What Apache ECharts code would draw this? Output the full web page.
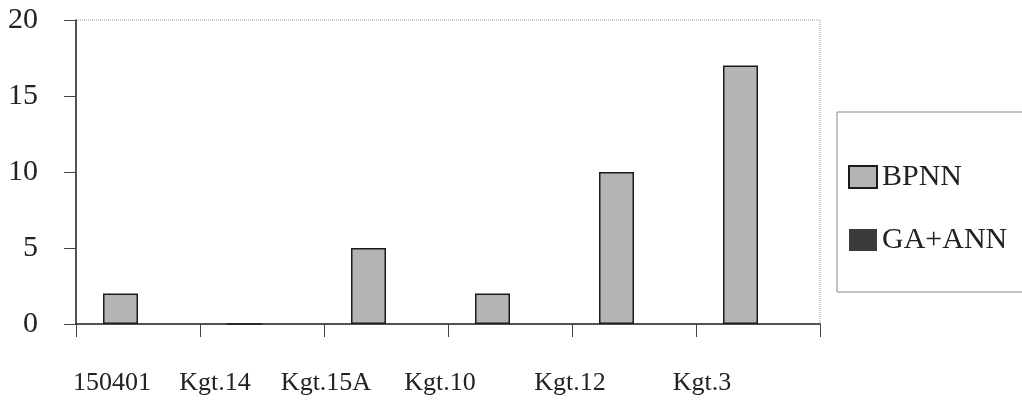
<!DOCTYPE html>
<html>
<head>
<meta charset="utf-8">
<script src="https://cdn.jsdelivr.net/npm/echarts@6/dist/echarts.min.js"></script>
<style>
  html, body { margin: 0; padding: 0; background: #fff; }
  #chart { width: 1022px; height: 410px; }
</style>
</head>
<body>
<div id="chart"></div>
<script>
// 数据
var categories = ['150401', 'Kgt.14', 'Kgt.15A', 'Kgt.10', 'Kgt.12', 'Kgt.3'];
var bpnn = [2, 0, 5, 2, 10, 17];
var gaAnn = [0, 0, 0, 0, 0, 0];
var yTicks = [0, 5, 10, 15, 20];

// x 轴标签在原图里向左偏移（像素）
var labelShift = [26, 47, 60, 70, 64, 56];

var chart = echarts.init(document.getElementById('chart'));
var font = "'Liberation Serif', 'DejaVu Serif', serif";

var rich = {};
labelShift.forEach(function (s, i) {
  rich['c' + i] = {
    fontFamily: font, fontSize: 26, color: '#222',
    padding: [0, s * 2, 0, 0]
  };
});

var option = {
  animation: false,
  backgroundColor: '#fff',
  grid: {
    left: 76, right: 202, top: 20, bottom: 86,
    show: true,
    borderColor: '#999',
    borderWidth: 1,
    borderType: 'dotted'
  },
  legend: {
    orient: 'vertical',
    left: 837,
    top: 112,
    padding: [50, 60, 37, 11],
    borderColor: '#888',
    borderWidth: 1,
    itemGap: 33,
    itemWidth: 28,
    itemHeight: 22,
    icon: 'rect',
    textStyle: { fontFamily: font, fontSize: 30, color: '#222' },
    data: ['BPNN', 'GA+ANN']
  },
  xAxis: {
    type: 'category',
    data: categories,
    axisLine: { lineStyle: { color: '#222', width: 1.5 } },
    axisTick: { show: true, length: 13, lineStyle: { color: '#444' } },
    axisLabel: {
      margin: 46,
      formatter: function (v, i) { return '{c' + i + '|' + v + '}'; },
      rich: rich
    }
  },
  yAxis: {
    type: 'value',
    min: 0, max: 20, interval: 5,
    splitLine: { show: false },
    axisLine: { show: true, lineStyle: { color: '#222', width: 1.5 } },
    axisTick: { show: true, length: 12, lineStyle: { color: '#444' } },
    axisLabel: {
      fontFamily: font, fontSize: 30, color: '#222', margin: 38,
      formatter: function (v) { return yTicks.indexOf(v) >= 0 ? String(v) : ''; }
    }
  },
  series: [
    {
      name: 'BPNN',
      type: 'bar',
      data: bpnn,
      barWidth: 35,
      barGap: '0%',
      itemStyle: { color: '#b4b4b4', borderColor: '#1a1a1a', borderWidth: 1.5 }
    },
    {
      name: 'GA+ANN',
      type: 'bar',
      data: gaAnn,
      barWidth: 35,
      itemStyle: { color: '#3a3a3a', borderColor: '#1a1a1a', borderWidth: 0 }
    }
  ]
};

chart.setOption(option);
</script>
</body>
</html>
